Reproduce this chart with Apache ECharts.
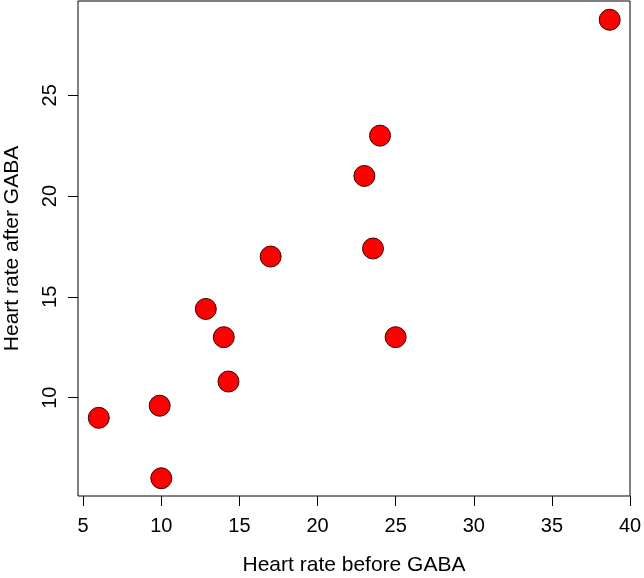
<!DOCTYPE html>
<html>
<head>
<meta charset="utf-8">
<script src="https://cdn.jsdelivr.net/npm/echarts@6/dist/echarts.min.js"></script>
<style>
html,body{margin:0;padding:0;background:#fff;}
#chart{width:644px;height:578px;}
</style>
</head>
<body>
<div id="chart"></div>
<script>
// Data
var before = [6.0, 10.0, 9.9, 12.85, 14.0, 14.3, 17.0, 23.0, 23.55, 24.0, 25.0, 38.7];
var after  = [9.0, 6.0, 9.6, 14.4, 13.0, 10.8, 17.0, 21.0, 17.4, 23.0, 13.0, 28.75];
var xTicks = [5, 10, 15, 20, 25, 30, 35, 40];
var yTicks = [10, 15, 20, 25];
var xTitle = 'Heart rate before GABA';
var yTitle = 'Heart rate after GABA';

var points = before.map(function (b, i) { return [b, after[i]]; });

var font = 'Liberation Sans, Arial, sans-serif';
var chart = echarts.init(document.getElementById('chart'), null, {renderer: 'canvas'});
chart.setOption({
  animation: false,
  backgroundColor: '#ffffff',
  grid: {
    left: 78, right: 14, top: 1, bottom: 82,
    containLabel: false, outerBoundsMode: 'none',
    show: true, borderColor: '#000', borderWidth: 1, backgroundColor: 'transparent'
  },
  xAxis: {
    type: 'value', min: 4.67, max: 40.0,
    name: xTitle, nameLocation: 'middle', nameGap: 59,
    nameTextStyle: {fontFamily: font, fontSize: 21, color: '#000'},
    axisLine: {show: false},
    splitLine: {show: false},
    axisTick: {show: true, length: 10, lineStyle: {color: '#000', width: 1}, customValues: xTicks},
    axisLabel: {fontFamily: font, fontSize: 20, color: '#000', margin: 20, customValues: xTicks}
  },
  yAxis: {
    type: 'value', min: 5.12, max: 29.68,
    name: yTitle, nameLocation: 'middle', nameGap: 55, nameRotate: 90,
    nameTextStyle: {fontFamily: font, fontSize: 21, color: '#000'},
    axisLine: {show: false},
    splitLine: {show: false},
    axisTick: {show: true, length: 10, lineStyle: {color: '#000', width: 1}, customValues: yTicks},
    axisLabel: {fontFamily: font, fontSize: 20, color: '#000', margin: 18, rotate: 90,
      verticalAlign: 'bottom', align: 'center', customValues: yTicks}
  },
  series: [{
    type: 'scatter',
    data: points,
    symbol: 'circle',
    symbolSize: 21,
    itemStyle: {color: '#ff0000', borderColor: '#3a0000', borderWidth: 1, opacity: 1}
  }]
});
</script>
</body>
</html>
